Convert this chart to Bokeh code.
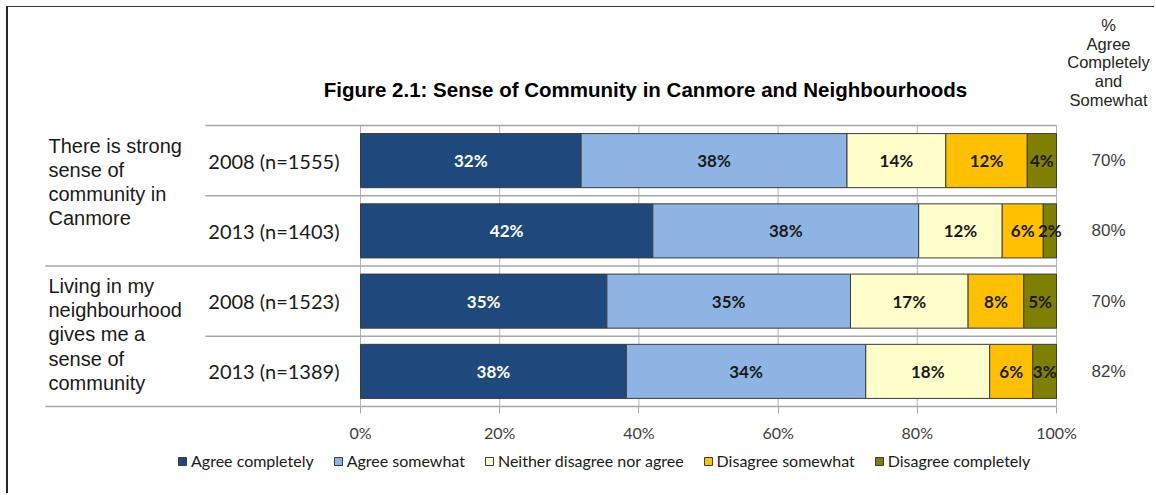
from bokeh.plotting import figure
from bokeh.layouts import column
from bokeh.models import (ColumnDataSource, Range1d, FixedTicker, PrintfTickFormatter,
                          Legend, LegendItem)
from bokeh.core.properties import value
from bokeh.embed import file_html
from bokeh.resources import INLINE

# ---------------- data ----------------
title_text = "Figure 2.1: Sense of Community in Canmore and Neighbourhoods"
header_text = "%\nAgree\nCompletely\nand\nSomewhat"
statements = ["There is strong\nsense of\ncommunity in\nCanmore",
              "Living in my\nneighbourhood\ngives me a\nsense of\ncommunity"]
statement_rows = [2, 2]          # number of survey rows per statement
rows = ["2008 (n=1555)", "2013 (n=1403)", "2008 (n=1523)", "2013 (n=1389)"]
series_names = ["Agree completely", "Agree somewhat", "Neither disagree nor agree",
                "Disagree somewhat", "Disagree completely"]
agree_completely = [31.7, 42.0, 35.4, 38.2]
agree_somewhat = [38.2, 38.2, 35.0, 34.4]
neither = [14.2, 12.0, 16.9, 17.8]
disagree_somewhat = [11.7, 5.9, 8.0, 6.2]
disagree_completely = [4.2, 1.9, 4.7, 3.4]
agree_total = ["70%", "80%", "70%", "82%"]
x_ticks = [0, 20, 40, 60, 80, 100]

# ---------------- styles / layout ----------------
colors = ["#1F497D", "#8DB4E2", "#FFFFCC", "#FFC000", "#808000"]
label_colors = ["#FFFFFF", "#1A1A1A", "#1A1A1A", "#1A1A1A", "#1A1A1A"]
BAR_LINE = "#3C3C3C"
ARIAL = value("Liberation Sans")
CALIBRI = value("Lato")

OX, OY = 8, 7                      # page offset of the canvases (margin + border)
W = 1146
H1, H2 = 443, 43
FRAME_H = 406 - OY
X0_PX, X100_PX = 360 - OX, 1056 - OX
ROWS_TOP_PX = 125 - OY
N = len(rows)
ROW_PX = (FRAME_H - ROWS_TOP_PX) / N


def xd(page_px):
    return (page_px - OX - X0_PX) * 100.0 / (X100_PX - X0_PX)


def yd(page_py):
    return (FRAME_H - (page_py - OY)) / ROW_PX


p = figure(width=W, height=H1, output_backend="svg", toolbar_location=None,
           x_range=Range1d(xd(OX), xd(OX + W)), y_range=Range1d(0, yd(OY)),
           y_axis_location=None, min_border_left=0, min_border_right=0,
           min_border_top=0, min_border_bottom=H1 - FRAME_H)
p.outline_line_color = None
p.xgrid.visible = False
p.ygrid.visible = False
p.background_fill_color = "white"
p.border_fill_color = "white"

ys = [N - i - 0.5 for i in range(N)]
series = [agree_completely, agree_somewhat, neither, disagree_somewhat, disagree_completely]
keys = ["ac", "as", "ne", "ds", "dc"]
data = {"y": ys}
for k, s in zip(keys, series):
    data[k] = s
src = ColumnDataSource(data)

# vertical gridlines
p.segment(x0=x_ticks, y0=[0] * len(x_ticks), x1=x_ticks, y1=[N] * len(x_ticks),
          line_color="#B4B4B4", line_width=1)

# horizontal separators
group_bounds = set()
acc = N
for g in statement_rows:
    acc -= g
    group_bounds.add(acc)
sep_y, sep_x0 = [], []
for b in range(1, N + 1):
    sep_y.append(b)
    sep_x0.append(xd(45) if b in group_bounds else xd(205))
p.segment(x0=sep_x0, y0=sep_y, x1=[100] * len(sep_y), y1=sep_y,
          line_color="#A6A6A6", line_width=1.5)

bars = p.hbar_stack(keys, y="y", height=0.77, fill_color=colors,
                    line_color=BAR_LINE, line_width=1, source=src)

# in-bar value labels
cum = [0.0] * N
for j, s in enumerate(series):
    xs = [c + v / 2.0 for c, v in zip(cum, s)]
    txt = [f"{round(v)}%" for v in s]
    cum = [c + v for c, v in zip(cum, s)]
    p.text(x=xs, y=ys, text=txt, text_align="center", text_baseline="middle",
           text_font=CALIBRI, text_font_style="bold", text_font_size="17px",
           text_color=label_colors[j])

# row labels (year, n)
p.text(x=[xd(339)] * N, y=ys, text=rows, text_align="right", text_baseline="middle",
       text_font=CALIBRI, text_font_size="20px", text_color="#1A1A1A")

# statement labels
g_top = []
acc = N
for g in statement_rows:
    g_top.append(acc)
    acc -= g
p.text(x=[xd(48)] * len(statements), y=[t - 9 / ROW_PX for t in g_top], text=statements,
       text_align="left", text_baseline="top", text_font=ARIAL, text_font_size="20px",
       text_line_height=1.1, text_color="#1A1A1A")

# right column
p.text(x=[xd(1108)] * N, y=ys, text=agree_total, text_align="center", text_baseline="middle",
       text_font=ARIAL, text_font_size="17px", text_color="#404040")
p.text(x=[xd(1108)], y=[yd(62)], text=[header_text], text_align="center",
       text_baseline="middle", text_font=ARIAL, text_font_size="16.5px",
       text_line_height=1.04, text_color="#262626")

# title
p.text(x=[xd(645)], y=[yd(89)], text=[title_text], text_align="center",
       text_baseline="middle", text_font=ARIAL, text_font_style="bold",
       text_font_size="20.5px", text_color="#000000")

# x axis
ax = p.xaxis[0]
ax.ticker = FixedTicker(ticks=x_ticks)
ax.formatter = PrintfTickFormatter(format="%d%%")
ax.bounds = (xd(45), 100)
ax.axis_line_color = "#A6A6A6"
ax.axis_line_width = 1.5
ax.major_tick_line_color = "#A6A6A6"
ax.major_tick_out = 7
ax.major_tick_in = 0
ax.minor_tick_line_color = None
ax.major_label_text_font = "Lato"
ax.major_label_text_font_size = "16px"
ax.major_label_text_color = "#404040"
ax.major_label_standoff = 9

# ---------------- legend strip ----------------
lg = figure(width=W, height=H2, output_backend="svg", toolbar_location=None,
            x_range=Range1d(0, 1), y_range=Range1d(0, 1),
            x_axis_location=None, y_axis_location=None,
            min_border_left=0, min_border_right=0, min_border_top=0, min_border_bottom=0)
lg.outline_line_color = None
lg.xgrid.visible = False
lg.ygrid.visible = False
lg.background_fill_color = "white"
lg.border_fill_color = "white"
# same stacked bars (hidden in this strip) provide the legend swatches
swatches = lg.hbar_stack(keys, y="y", height=0.77, fill_color=colors,
                         line_color=BAR_LINE, line_width=1, source=src)
for r in swatches:
    r.visible = False
legend = Legend(items=[LegendItem(label=n, renderers=[r]) for n, r in zip(series_names, swatches)],
                orientation="horizontal", location=(177 - OX, H2 - 20),
                glyph_width=10, glyph_height=10, label_text_font="Lato",
                label_text_font_size="16px", label_text_color="#1A1A1A",
                label_standoff=4, spacing=19, padding=0, margin=0,
                inactive_fill_alpha=0, click_policy="none",
                border_line_color=None, background_fill_alpha=0)
lg.add_layout(legend, "center")

layout = column(p, lg, spacing=0,
                styles={"margin-left": "6px", "margin-top": "6px",
                        "border-left": "2px solid #262626",
                        "border-top": "1px solid #3A3A3A"})

open("out.html", "w").write(file_html(layout, INLINE))
